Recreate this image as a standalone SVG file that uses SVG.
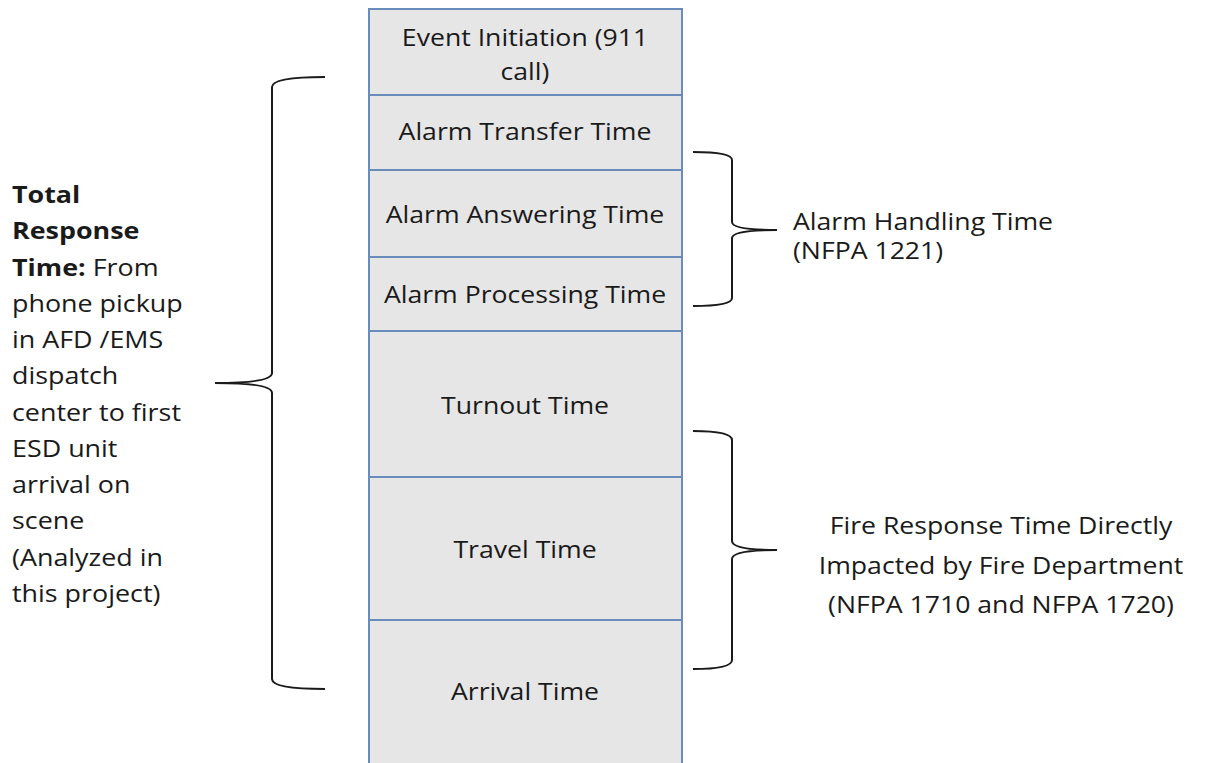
<svg xmlns="http://www.w3.org/2000/svg" width="1212" height="763" viewBox="0 0 1212 763">
<style>
.cell{fill:#e6e6e6;stroke:#6a8cba;stroke-width:2}
.t{font-family:"Open Sans",Lato,"Liberation Sans",sans-serif;font-size:24px;fill:#1a1a1a}
.c{text-anchor:middle}
.brace{fill:none;stroke:#1a1a1a;stroke-width:2}
.b{font-weight:bold}
</style>
<rect width="1212" height="763" fill="#ffffff"/>
<g id="event-initiation"><rect class="cell" x="369" y="9" width="313" height="86"/><g transform="translate(525,0) scale(1.11,1)"><text class="t c" x="0" y="46">Event Initiation (911</text><text class="t c" x="0" y="80">call)</text></g></g>
<g id="alarm-transfer"><rect class="cell" x="369" y="95" width="313" height="75"/><text class="t c" transform="translate(525,0) scale(1.11,1)" x="0" y="140">Alarm Transfer Time</text></g>
<g id="alarm-answering"><rect class="cell" x="369" y="170" width="313" height="87"/><text class="t c" transform="translate(525,0) scale(1.11,1)" x="0" y="223">Alarm Answering Time</text></g>
<g id="alarm-processing"><rect class="cell" x="369" y="257" width="313" height="74"/><text class="t c" transform="translate(525,0) scale(1.11,1)" x="0" y="303">Alarm Processing Time</text></g>
<g id="turnout"><rect class="cell" x="369" y="331" width="313" height="146"/><text class="t c" transform="translate(525,0) scale(1.11,1)" x="0" y="414">Turnout Time</text></g>
<g id="travel"><rect class="cell" x="369" y="477" width="313" height="143"/><text class="t c" transform="translate(525,0) scale(1.11,1)" x="0" y="558">Travel Time</text></g>
<g id="arrival"><rect class="cell" x="369" y="620" width="313" height="160"/><text class="t c" transform="translate(525,0) scale(1.11,1)" x="0" y="700">Arrival Time</text></g>
<g id="connectors">
<path class="brace" d="M325,77 Q272,77 272,87 L272,373 Q272,383 215,383 Q272,383 272,393 L272,679 Q272,689 325,689"/>
<path class="brace" d="M693,152 Q732,152 732,160 L732,222 Q732,230 777,230 Q732,230 732,238 L732,298 Q732,306 693,306"/>
<path class="brace" d="M693,431 Q732,431 732,440 L732,541 Q732,550 777,550 Q732,550 732,559 L732,660 Q732,669 693,669"/>
</g>
<g id="total-response-label" transform="translate(12,0) scale(1.12,1)">
<text class="t" x="0" y="203"><tspan class="b">Total</tspan></text>
<text class="t" x="0" y="239"><tspan class="b">Response</tspan></text>
<text class="t" x="0" y="276"><tspan class="b">Time:</tspan> From</text>
<text class="t" x="0" y="312">phone pickup</text>
<text class="t" x="0" y="348">in AFD /EMS</text>
<text class="t" x="0" y="384">dispatch</text>
<text class="t" x="0" y="421">center to first</text>
<text class="t" x="0" y="457">ESD unit</text>
<text class="t" x="0" y="493">arrival on</text>
<text class="t" x="0" y="529">scene</text>
<text class="t" x="0" y="566">(Analyzed in</text>
<text class="t" x="0" y="602">this project)</text>
</g>
<g id="alarm-handling-label" transform="translate(793,0) scale(1.11,1)">
<text class="t" x="0" y="230">Alarm Handling Time</text>
<text class="t" x="0" y="259">(NFPA 1221)</text>
</g>
<g id="fire-response-label" transform="translate(1001,0) scale(1.11,1)">
<text class="t c" x="0" y="534">Fire Response Time Directly</text>
<text class="t c" x="0" y="574">Impacted by Fire Department</text>
<text class="t c" x="0" y="613">(NFPA 1710 and NFPA 1720)</text>
</g>
</svg>
